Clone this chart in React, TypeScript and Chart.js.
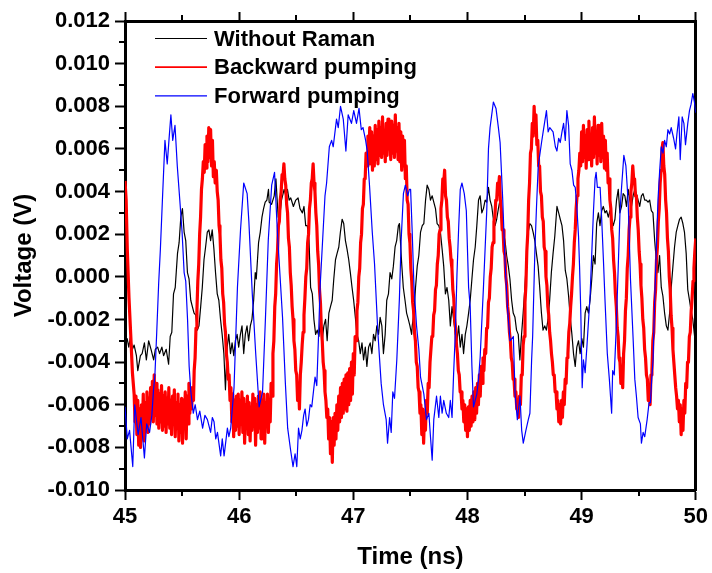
import React, { useEffect, useRef } from 'react';
import { Chart, registerables } from 'chart.js';

Chart.register(...registerables);

// ---------- data (time in ns, voltage in mV) ----------
const seriesLabels = ['Without Raman', 'Backward pumping', 'Forward pumping'];
const seriesColors = ['#000000', '#ff0000', '#0000ff'];
const seriesWidths = [1.2, 3.2, 1.2];
const xTickValues = [45, 46, 47, 48, 49, 50];
const yTickValuesMilliVolt = [-10, -8, -6, -4, -2, 0, 2, 4, 6, 8, 10, 12];
const xAxisTitle = 'Time (ns)';
const yAxisTitle = 'Voltage (V)';

const withoutRaman: [number, number][] = [
[45.000,-2.9],[45.019,-2.9],[45.033,-3.3],[45.048,-2.8],[45.065,-3.4],[45.080,-3.2],[45.100,-3.7],[45.112,-4.4],[45.135,-3.7],[45.150,-3.6],[45.170,-3.1],[45.187,-3.9],[45.207,-3.0],[45.228,-3.4],[45.251,-3.9],[45.266,-3.4],[45.286,-3.3],[45.303,-3.6],[45.323,-3.3],[45.338,-3.7],[45.361,-3.4],[45.382,-4.1],[45.396,-2.8],[45.410,-2.6],[45.425,-0.8],[45.440,-0.5],[45.460,1.1],[45.474,1.6],[45.489,2.8],[45.503,3.2],[45.518,2.1],[45.532,1.7],[45.547,0.2],[45.561,-0.1],[45.576,-1.1],[45.590,-1.4],[45.605,-1.7],[45.620,-1.8],[45.634,-2.5],[45.648,-2.3],[45.663,-1.4],[45.677,-0.5],[45.692,0.8],[45.706,1.4],[45.721,2.1],[45.735,2.2],[45.750,1.7],[45.764,2.2],[45.779,1.3],[45.793,0.2],[45.808,-0.8],[45.822,-1.1],[45.837,-2.0],[45.851,-2.7],[45.866,-3.6],[45.880,-5.3],[45.895,-3.3],[45.909,-2.7],[45.924,-3.6],[45.938,-3.1],[45.953,-3.7],[45.967,-3.0],[45.982,-2.7],[45.996,-3.3],[46.011,-2.7],[46.025,-2.3],[46.040,-3.6],[46.054,-2.7],[46.069,-2.3],[46.083,-3.0],[46.098,-2.3],[46.112,-2.0],[46.127,-1.1],[46.141,0.2],[46.150,-0.1],[46.170,1.6],[46.185,2.1],[46.200,2.8],[46.214,3.2],[46.228,3.5],[46.243,3.6],[46.257,4.1],[46.263,3.5],[46.284,3.4],[46.307,3.8],[46.322,4.6],[46.342,2.8],[46.359,3.0],[46.371,3.6],[46.394,4.1],[46.409,3.8],[46.423,4.1],[46.438,3.6],[46.452,3.7],[46.475,3.3],[46.496,3.6],[46.516,3.7],[46.533,3.2],[46.554,3.0],[46.568,3.3],[46.583,2.4],[46.597,2.4],[46.612,1.7],[46.626,-0.5],[46.641,-0.8],[46.655,-2.0],[46.670,-2.7],[46.684,-2.5],[46.699,-2.8],[46.713,-1.9],[46.728,-3.0],[46.742,-2.3],[46.757,-2.0],[46.771,-3.0],[46.786,-1.7],[46.800,-1.4],[46.815,-1.1],[46.829,-0.1],[46.844,0.8],[46.858,1.1],[46.873,1.4],[46.887,2.1],[46.902,2.7],[46.916,2.5],[46.931,1.7],[46.945,1.3],[46.960,0.8],[46.974,0.2],[46.989,-0.5],[47.003,-1.1],[47.018,-1.9],[47.032,-2.7],[47.047,-3.0],[47.061,-3.6],[47.076,-3.1],[47.090,-3.9],[47.105,-3.3],[47.119,-4.2],[47.134,-3.3],[47.148,-3.1],[47.163,-3.6],[47.177,-2.7],[47.192,-3.0],[47.206,-2.3],[47.221,-2.7],[47.235,-1.9],[47.250,-2.3],[47.264,-3.6],[47.279,-2.7],[47.293,-1.1],[47.308,-0.8],[47.322,0.2],[47.337,-0.1],[47.351,0.5],[47.366,1.4],[47.380,1.7],[47.395,2.4],[47.404,2.5],[47.424,0.6],[47.438,-0.5],[47.453,-1.1],[47.467,-1.7],[47.482,-2.0],[47.496,-2.3],[47.511,-2.7],[47.516,-2.3],[47.531,-1.7],[47.545,-0.5],[47.560,0.5],[47.574,1.0],[47.589,2.1],[47.604,2.4],[47.618,2.5],[47.633,3.6],[47.647,4.3],[47.662,4.1],[47.676,3.6],[47.691,3.8],[47.705,3.5],[47.720,3.2],[47.734,2.5],[47.749,2.4],[47.763,2.1],[47.778,1.3],[47.792,0.5],[47.807,-0.8],[47.821,-0.5],[47.836,-1.1],[47.850,-2.3],[47.865,-1.4],[47.879,-2.0],[47.894,-2.7],[47.908,-3.0],[47.923,-2.3],[47.937,-3.3],[47.952,-2.7],[47.966,-3.6],[47.981,-2.7],[47.995,-2.3],[48.010,-1.7],[48.024,-1.1],[48.039,-0.1],[48.053,0.8],[48.068,1.4],[48.082,2.4],[48.097,3.6],[48.111,3.8],[48.126,3.0],[48.140,3.2],[48.155,3.6],[48.169,3.5],[48.184,4.2],[48.198,3.6],[48.213,3.3],[48.227,2.7],[48.242,2.4],[48.256,2.7],[48.271,3.2],[48.285,3.6],[48.300,3.0],[48.314,2.1],[48.329,1.7],[48.343,1.0],[48.358,0.5],[48.372,-0.1],[48.387,-1.1],[48.401,-1.7],[48.416,-1.9],[48.430,-2.5],[48.445,-2.7],[48.459,-3.9],[48.474,-2.7],[48.488,-1.7],[48.503,-0.5],[48.517,0.8],[48.532,2.1],[48.546,2.5],[48.561,2.4],[48.575,2.1],[48.590,1.7],[48.604,1.1],[48.619,0.5],[48.633,-0.5],[48.648,-1.7],[48.662,-2.5],[48.677,-2.3],[48.691,-2.5],[48.706,-2.0],[48.720,-1.1],[48.735,0.2],[48.750,1.1],[48.765,1.9],[48.784,3.3],[48.799,3.0],[48.813,2.7],[48.828,2.4],[48.842,1.7],[48.857,0.3],[48.871,-0.1],[48.886,-0.9],[48.900,-1.9],[48.915,-2.7],[48.929,-3.6],[48.944,-4.2],[48.958,-3.3],[48.973,-3.0],[48.987,-3.6],[49.002,-2.9],[49.016,-3.3],[49.031,-1.7],[49.045,-1.4],[49.060,-1.7],[49.074,-1.1],[49.089,-0.1],[49.103,1.0],[49.118,0.6],[49.132,2.5],[49.147,3.0],[49.161,2.4],[49.176,3.1],[49.190,3.3],[49.205,3.0],[49.219,3.1],[49.234,2.8],[49.248,3.1],[49.263,2.7],[49.277,2.4],[49.292,2.7],[49.306,3.6],[49.321,4.1],[49.335,3.0],[49.350,3.3],[49.364,3.9],[49.379,3.8],[49.393,3.3],[49.408,4.1],[49.422,3.6],[49.437,3.3],[49.451,3.8],[49.466,4.1],[49.480,3.9],[49.495,3.6],[49.509,3.3],[49.524,3.8],[49.538,3.9],[49.553,3.6],[49.567,3.6],[49.582,3.5],[49.596,3.6],[49.611,3.1],[49.625,3.0],[49.640,1.7],[49.654,0.8],[49.669,0.2],[49.683,1.0],[49.698,-0.5],[49.712,-0.9],[49.727,-1.7],[49.742,-2.3],[49.756,-2.5],[49.771,-1.7],[49.785,-0.5],[49.800,0.5],[49.814,1.4],[49.829,2.1],[49.843,2.4],[49.858,2.7],[49.872,2.8],[49.887,2.5],[49.901,2.1],[49.916,1.1],[49.930,-0.6],[49.945,-1.1],[49.959,-1.6],[49.974,-2.0],[49.988,-2.7],[50.000,-3.3]
];

const backwardPumping: [number, number][] = [
[45.000,4.5],[45.010,3.6],[45.020,1.3],[45.035,-1.0],[45.050,-2.7],[45.065,-4.5],[45.080,-5.5],
[45.088,-6.8],[45.096,-5.6],[45.104,-7.4],[45.112,-5.8],[45.120,-7.9],[45.128,-6.2],[45.136,-8.0],[45.144,-6.0],[45.152,-7.2],[45.160,-5.5],[45.168,-7.7],[45.176,-5.9],[45.184,-7.0],[45.192,-5.4],[45.200,-7.3],[45.208,-5.7],[45.216,-6.9],[45.224,-5.2],[45.232,-6.6],[45.240,-4.9],[45.248,-6.8],[45.256,-4.6],[45.264,-6.5],[45.272,-5.0],[45.280,-6.9],[45.288,-5.3],[45.296,-7.1],[45.304,-5.5],[45.312,-6.8],[45.320,-5.1],[45.328,-7.2],[45.336,-5.6],[45.344,-7.0],[45.352,-5.4],[45.360,-7.3],[45.368,-5.7],[45.376,-6.9],[45.384,-5.2],[45.392,-7.1],[45.400,-5.8],[45.408,-7.4],[45.416,-5.6],[45.424,-6.8],[45.432,-5.3],[45.440,-7.5],[45.448,-5.9],[45.456,-7.1],[45.464,-5.5],[45.472,-7.7],[45.480,-6.0],[45.488,-7.3],[45.496,-5.7],[45.504,-7.8],[45.512,-5.8],[45.520,-7.0],[45.528,-5.4],[45.536,-7.6],[45.544,-5.6],[45.552,-6.9],[45.560,-5.0],[45.568,-6.4],[45.576,-5.2],[45.584,-6.2],[45.592,-5.2],[45.600,-5.8],
[45.606,-4.4],[45.614,-3.8],[45.622,-2.4],[45.630,-1.6],[45.638,-0.2],[45.646,0.6],[45.654,2.0],[45.662,2.8],[45.670,4.1],[45.678,4.6],[45.686,5.4],[45.694,4.9],[45.702,6.2],[45.710,5.1],[45.718,6.6],[45.726,5.4],[45.734,7.0],[45.742,5.6],[45.750,6.9],[45.758,5.2],[45.766,6.4],[45.774,4.7],[45.782,5.4],[45.790,4.4],[45.800,5.0],[45.808,4.0],[45.816,3.6],[45.824,2.4],[45.832,2.0],[45.840,0.8],[45.848,0.4],[45.856,-0.8],[45.864,-1.2],[45.872,-2.2],[45.880,-2.6],[45.888,-3.6],[45.896,-4.0],[45.904,-4.8],[45.912,-4.6],[45.920,-5.8],
[45.928,-5.2],[45.936,-6.8],[45.944,-5.5],[45.952,-7.5],[45.960,-5.8],[45.968,-7.2],[45.976,-5.6],[45.984,-7.0],[45.992,-5.5],[46.000,-7.4],[46.008,-5.8],[46.016,-6.9],[46.024,-5.4],[46.032,-7.3],[46.040,-5.7],[46.048,-7.8],[46.056,-6.0],[46.064,-7.1],[46.072,-5.6],[46.080,-7.4],[46.088,-5.9],[46.096,-7.7],[46.104,-6.1],[46.112,-7.2],[46.120,-5.5],[46.128,-7.0],[46.136,-5.7],[46.144,-7.9],[46.152,-6.0],[46.160,-7.3],[46.168,-5.6],[46.176,-7.1],[46.184,-5.4],[46.192,-7.6],[46.200,-5.8],[46.208,-7.2],[46.216,-5.5],[46.224,-7.8],[46.232,-5.9],[46.240,-7.0],[46.248,-5.5],[46.256,-7.3],[46.264,-5.8],[46.272,-6.8],[46.280,-5.0],[46.288,-5.6],
[46.296,-3.6],[46.304,-3.0],[46.312,-1.4],[46.320,-0.8],[46.328,0.6],[46.336,1.2],[46.344,2.4],[46.352,2.6],[46.360,3.6],[46.368,4.0],[46.376,4.8],[46.384,4.7],[46.392,5.3],[46.400,4.6],[46.408,4.3],[46.416,3.4],[46.424,3.0],[46.432,1.8],[46.440,1.4],[46.448,0.2],[46.456,-0.4],[46.464,-1.4],[46.472,-2.0],[46.480,-3.0],[46.488,-3.4],[46.496,-4.4],[46.504,-4.6],[46.512,-5.8],[46.520,-5.0],[46.528,-6.2],[46.536,-4.6],[46.544,-4.0],[46.552,-3.2],[46.560,-2.6],[46.568,-1.8],[46.576,-1.0],[46.584,0.0],[46.592,0.4],[46.600,1.6],[46.608,2.0],[46.616,3.2],[46.624,3.6],[46.632,4.4],[46.640,4.6],[46.648,5.3],[46.656,4.4],[46.664,4.0],[46.672,3.0],[46.680,2.4],[46.688,1.2],[46.696,0.6],[46.704,-0.6],[46.712,-1.2],[46.720,-2.4],[46.728,-3.0],[46.736,-4.0],[46.744,-4.4],[46.752,-5.4],[46.760,-5.8],
[46.768,-6.6],[46.776,-6.2],[46.784,-7.6],[46.792,-6.6],[46.800,-8.3],[46.808,-6.8],[46.816,-8.7],[46.824,-6.6],[46.832,-7.9],[46.840,-6.4],[46.848,-7.6],[46.856,-6.0],[46.864,-7.2],[46.872,-5.6],[46.880,-6.8],[46.888,-5.2],[46.896,-6.6],[46.904,-5.0],[46.912,-6.4],[46.920,-4.8],[46.928,-6.2],[46.936,-4.6],[46.944,-6.3],[46.952,-4.5],[46.960,-6.0],[46.968,-4.3],[46.976,-5.8],[46.984,-4.0],[46.992,-5.5],[47.000,-3.6],[47.008,-4.6],[47.016,-2.8],[47.024,-3.0],[47.032,-1.6],[47.040,-1.2],[47.048,0.0],[47.056,0.4],[47.064,1.6],[47.072,2.0],[47.080,3.2],[47.088,3.4],[47.096,4.6],[47.104,4.6],[47.112,5.8],[47.120,5.2],[47.128,6.6],
[47.136,5.4],[47.144,7.0],[47.152,5.3],[47.160,6.8],[47.168,5.0],[47.176,6.6],[47.184,5.2],[47.192,7.1],[47.200,5.5],[47.208,6.9],[47.216,5.3],[47.224,7.3],[47.232,5.7],[47.240,7.0],[47.248,5.6],[47.256,7.5],[47.264,5.8],[47.272,6.8],[47.280,5.4],[47.288,7.2],[47.296,5.7],[47.304,7.4],[47.312,6.0],[47.320,6.9],[47.328,5.5],[47.336,7.3],[47.344,5.8],[47.352,7.1],[47.360,5.6],[47.368,7.6],[47.376,5.9],[47.384,7.0],[47.392,5.5],[47.400,7.2],[47.408,5.4],[47.416,6.8],[47.424,5.0],[47.432,6.6],[47.440,5.2],[47.448,6.4],[47.456,4.6],[47.464,5.2],
[47.472,3.6],[47.480,3.4],[47.488,2.0],[47.496,1.6],[47.504,0.4],[47.512,-0.2],[47.520,-1.2],[47.528,-1.6],[47.536,-2.6],[47.544,-3.0],[47.552,-4.0],[47.560,-4.2],[47.568,-5.2],[47.576,-5.4],[47.584,-6.4],[47.592,-6.0],[47.600,-7.4],[47.608,-6.2],[47.616,-7.8],[47.624,-6.4],[47.632,-7.2],[47.640,-5.8],[47.648,-6.4],[47.656,-5.0],[47.664,-5.2],[47.672,-4.0],[47.680,-4.0],[47.688,-2.8],[47.696,-2.8],[47.704,-1.8],[47.712,-1.6],[47.720,-0.6],[47.728,-0.4],[47.736,0.6],[47.744,1.0],[47.752,2.0],[47.760,2.2],[47.768,3.2],[47.776,3.6],[47.784,4.6],[47.792,4.4],[47.800,5.0],[47.808,3.8],[47.816,3.6],[47.824,2.8],[47.832,2.6],[47.840,1.8],[47.848,1.4],[47.856,0.8],[47.864,0.4],[47.872,-0.6],[47.880,-1.0],[47.888,-2.0],[47.896,-2.4],[47.904,-3.2],[47.912,-3.6],[47.920,-4.4],[47.928,-4.6],[47.936,-5.4],[47.944,-5.4],[47.952,-6.2],[47.960,-5.8],[47.968,-6.8],[47.976,-6.0],[47.984,-7.2],[47.992,-6.2],[48.000,-7.5],[48.008,-6.1],[48.016,-7.2],[48.024,-5.8],[48.032,-7.0],[48.040,-5.6],[48.048,-6.8],[48.056,-5.4],[48.064,-6.7],[48.072,-5.2],[48.080,-6.4],[48.088,-5.0],[48.096,-6.0],[48.104,-4.6],[48.112,-5.6],[48.120,-4.2],[48.128,-5.0],[48.136,-3.8],[48.144,-4.4],[48.152,-3.4],[48.160,-3.6],[48.168,-2.4],[48.176,-2.4],[48.184,-1.2],[48.192,-1.0],[48.200,0.0],[48.208,0.4],[48.216,1.4],[48.224,1.6],[48.232,2.6],[48.240,2.8],[48.248,3.6],[48.256,3.6],[48.264,4.4],[48.272,4.2],[48.280,4.7],[48.288,3.6],[48.296,3.2],[48.304,2.2],[48.312,2.2],[48.320,1.2],[48.328,1.0],[48.336,0.0],[48.344,-0.4],[48.352,-1.4],[48.360,-1.8],[48.368,-2.6],[48.376,-3.0],[48.384,-3.8],[48.392,-4.0],[48.400,-4.8],[48.408,-4.8],[48.416,-5.6],[48.424,-5.4],[48.432,-6.2],[48.440,-5.8],[48.448,-6.6],[48.456,-5.6],[48.464,-6.0],[48.472,-4.6],[48.480,-4.6],[48.488,-3.2],[48.496,-2.8],[48.504,-1.2],[48.512,-0.4],[48.520,1.2],[48.528,2.0],[48.536,3.6],[48.544,4.4],[48.552,5.8],[48.560,6.0],[48.568,7.2],[48.576,6.6],[48.584,8.0],[48.592,6.8],[48.600,7.6],[48.608,6.2],[48.616,6.4],[48.624,5.2],[48.632,5.2],[48.640,4.0],[48.648,3.8],[48.656,2.8],[48.664,2.6],[48.672,1.4],[48.680,1.2],[48.688,0.0],[48.696,-0.4],[48.704,-1.4],[48.712,-1.8],[48.720,-2.6],[48.728,-3.0],[48.736,-3.6],[48.744,-4.0],[48.752,-4.6],[48.760,-4.6],[48.768,-5.4],[48.776,-5.4],[48.784,-6.2],[48.792,-5.8],[48.800,-6.8],[48.808,-6.0],[48.816,-6.9],[48.824,-5.8],[48.832,-6.6],[48.840,-5.4],[48.848,-6.0],[48.856,-4.8],[48.864,-5.0],[48.872,-3.8],[48.880,-3.6],[48.888,-2.6],[48.896,-2.2],[48.904,-1.4],[48.912,-0.8],[48.920,0.0],[48.928,0.6],[48.936,1.6],[48.944,2.2],[48.952,3.2],[48.960,3.8],[48.968,4.6],[48.976,5.0],[48.984,5.8],
[48.992,5.2],[49.000,6.8],[49.008,5.4],[49.016,7.1],[49.024,5.6],[49.032,6.6],[49.040,5.1],[49.048,6.9],[49.056,5.5],[49.064,7.3],[49.072,5.7],[49.080,6.7],[49.088,5.2],[49.096,7.0],[49.104,5.6],[49.112,7.5],[49.120,5.8],[49.128,6.8],[49.136,5.3],[49.144,7.1],[49.152,5.7],[49.160,6.9],[49.168,5.4],[49.176,7.2],[49.184,5.6],[49.192,6.6],[49.200,5.1],[49.208,6.4],[49.216,5.0],[49.224,5.8],[49.232,4.4],[49.240,4.6],[49.248,3.6],[49.256,3.2],[49.264,2.2],[49.272,1.8],[49.280,0.8],[49.288,0.2],[49.296,-0.8],[49.304,-1.4],[49.312,-2.4],[49.320,-2.8],[49.328,-3.8],[49.336,-4.0],[49.344,-5.0],[49.352,-4.4],[49.360,-5.2],[49.368,-3.6],[49.376,-3.0],[49.384,-1.6],[49.392,-1.0],[49.400,0.4],[49.408,1.0],[49.416,2.2],[49.424,2.8],[49.432,4.0],[49.440,4.4],[49.448,5.2],[49.456,4.6],[49.464,4.6],[49.472,3.8],[49.480,3.8],[49.488,2.8],[49.496,2.2],[49.504,1.2],[49.512,0.6],[49.520,-0.4],[49.528,-1.0],[49.536,-2.0],[49.544,-2.4],[49.552,-3.4],[49.560,-3.8],[49.568,-4.6],[49.576,-4.8],[49.584,-5.8],[49.592,-5.2],[49.600,-6.0],[49.608,-4.6],[49.616,-4.4],[49.624,-3.0],[49.632,-2.6],[49.640,-1.2],[49.648,-0.6],[49.656,0.8],[49.664,1.4],[49.672,2.6],[49.680,3.2],[49.688,4.4],[49.696,5.0],[49.704,6.0],[49.712,6.3],[49.720,5.2],[49.728,4.8],[49.736,3.6],[49.744,3.0],[49.752,1.8],[49.760,1.2],[49.768,0.0],[49.776,-0.6],[49.784,-1.8],[49.792,-2.4],[49.800,-3.4],[49.808,-4.0],[49.816,-4.6],[49.824,-5.2],[49.832,-5.6],[49.840,-6.2],[49.848,-5.8],[49.856,-6.8],[49.864,-6.0],[49.872,-7.4],[49.880,-6.2],[49.888,-7.2],[49.896,-5.8],[49.904,-6.4],[49.912,-5.0],[49.920,-5.2],[49.928,-4.0],[49.936,-4.0],[49.944,-2.8],[49.952,-2.6],[49.960,-1.6],[49.968,-1.0],[49.976,-0.2],[49.984,0.4],[49.992,1.2],[50.000,1.8]
];

const forwardPumping: [number, number][] = [
[45.000,-6.1],[45.020,-7.6],[45.040,-7.2],[45.068,-8.9],[45.085,-6.0],[45.115,-7.4],[45.140,-6.6],[45.170,-8.5],[45.190,-6.9],[45.215,-7.3],[45.235,-6.5],[45.250,-5.3],[45.262,-4.6],[45.278,-2.6],[45.295,-0.3],[45.310,1.3],[45.330,3.9],[45.350,6.4],[45.370,5.3],[45.385,6.4],[45.402,7.6],[45.418,6.4],[45.438,7.1],[45.458,5.2],[45.480,3.6],[45.500,2.1],[45.518,0.2],[45.532,-0.2],[45.548,-2.0],[45.562,-4.2],[45.577,-5.4],[45.598,-6.4],[45.615,-6.0],[45.635,-6.7],[45.655,-6.3],[45.680,-7.1],[45.700,-6.5],[45.722,-6.7],[45.750,-7.3],[45.765,-6.6],[45.780,-6.8],[45.795,-7.6],[45.810,-7.3],[45.838,-8.4],[45.852,-7.6],[45.868,-8.4],[45.897,-7.1],[45.910,-7.5],[45.926,-7.1],[45.955,-5.2],[45.985,-0.5],[46.012,2.2],[46.040,4.4],[46.070,3.9],[46.085,2.6],[46.115,-0.8],[46.145,-3.6],[46.175,-6.1],[46.205,-5.4],[46.230,-2.0],[46.255,1.7],[46.285,4.3],[46.310,4.9],[46.335,2.1],[46.380,-1.9],[46.405,-5.0],[46.425,-7.1],[46.450,-8.1],[46.472,-8.9],[46.490,-8.3],[46.505,-8.9],[46.520,-7.1],[46.535,-7.6],[46.550,-7.2],[46.565,-6.5],[46.578,-6.2],[46.592,-7.0],[46.607,-6.7],[46.622,-6.0],[46.636,-6.1],[46.665,-4.7],[46.680,-5.1],[46.694,-3.0],[46.710,-0.4],[46.732,1.8],[46.752,3.8],[46.766,4.4],[46.790,6.1],[46.810,6.4],[46.824,6.1],[46.853,7.4],[46.868,7.0],[46.888,8.0],[46.912,7.4],[46.935,5.9],[46.955,7.6],[46.984,7.2],[47.004,7.8],[47.028,7.2],[47.050,7.9],[47.070,6.9],[47.085,7.0],[47.108,6.4],[47.122,5.9],[47.143,4.2],[47.166,2.1],[47.186,0.6],[47.215,-2.6],[47.244,-5.0],[47.264,-6.0],[47.288,-6.7],[47.300,-7.8],[47.318,-6.6],[47.332,-7.3],[47.346,-5.4],[47.361,-5.7],[47.381,-3.9],[47.404,-1.0],[47.419,1.7],[47.439,3.9],[47.456,4.3],[47.477,3.8],[47.491,4.1],[47.502,4.1],[47.516,2.1],[47.531,-0.4],[47.554,-2.3],[47.574,-3.4],[47.589,-4.7],[47.618,-5.5],[47.641,-6.7],[47.662,-6.4],[47.676,-7.5],[47.691,-8.6],[47.705,-6.7],[47.729,-5.6],[47.749,-6.6],[47.763,-5.6],[47.778,-6.4],[47.792,-5.8],[47.815,-6.4],[47.836,-6.6],[47.850,-5.8],[47.865,-6.6],[47.879,-4.5],[47.894,-2.6],[47.908,0.1],[47.923,2.3],[47.937,4.1],[47.952,4.4],[47.972,3.9],[47.990,3.1],[48.010,-0.5],[48.024,-1.4],[48.039,-4.2],[48.053,-6.1],[48.082,-5.5],[48.097,-4.8],[48.111,-3.8],[48.140,-0.5],[48.169,3.1],[48.184,6.0],[48.198,7.0],[48.227,8.2],[48.250,7.9],[48.271,7.0],[48.286,6.3],[48.309,3.6],[48.330,0.6],[48.350,-1.4],[48.373,-3.0],[48.402,-2.8],[48.417,-5.5],[48.437,-6.7],[48.460,-5.6],[48.475,-7.2],[48.489,-7.8],[48.512,-7.2],[48.533,-6.7],[48.547,-6.4],[48.562,-3.9],[48.571,-2.8],[48.591,1.3],[48.605,3.3],[48.620,5.2],[48.649,6.3],[48.663,6.8],[48.692,7.8],[48.707,6.8],[48.721,7.0],[48.750,6.8],[48.770,6.1],[48.784,5.9],[48.799,6.5],[48.813,6.3],[48.828,6.8],[48.842,7.2],[48.857,6.4],[48.871,7.8],[48.886,7.1],[48.900,5.3],[48.915,5.0],[48.930,4.3],[48.944,4.2],[48.958,3.3],[48.973,1.9],[48.982,0.5],[48.993,-1.7],[49.005,-5.2],[49.016,-3.9],[49.031,-4.5],[49.046,-3.3],[49.075,-0.8],[49.089,1.1],[49.104,3.1],[49.118,4.6],[49.127,4.9],[49.138,4.2],[49.162,4.2],[49.176,2.7],[49.191,0.8],[49.205,-1.1],[49.225,-3.6],[49.243,-4.8],[49.263,-6.4],[49.272,-4.4],[49.286,-4.6],[49.301,-2.7],[49.321,0.5],[49.336,3.0],[49.350,4.2],[49.370,5.7],[49.388,5.2],[49.408,3.5],[49.428,-0.1],[49.452,-3.0],[49.466,-4.8],[49.480,-5.6],[49.495,-6.6],[49.515,-6.9],[49.524,-7.8],[49.539,-7.3],[49.553,-7.5],[49.574,-6.7],[49.591,-5.9],[49.603,-5.9],[49.614,-4.8],[49.626,-3.9],[49.640,-1.1],[49.655,1.4],[49.669,3.6],[49.684,5.0],[49.698,6.1],[49.713,5.8],[49.727,6.4],[49.742,6.1],[49.756,6.9],[49.771,6.7],[49.785,7.0],[49.806,6.5],[49.823,6.0],[49.835,6.7],[49.852,7.5],[49.864,5.5],[49.881,7.5],[49.896,7.2],[49.910,6.2],[49.930,7.2],[49.945,7.8],[49.959,8.1],[49.974,8.6],[49.988,8.2],[50.000,7.7]
];

const seriesData = [withoutRaman, backwardPumping, forwardPumping];

// ---------- styling ----------
const FONT = '"Liberation Sans", Arial, Helvetica, sans-serif';

const minorTicksPlugin = {
  id: 'minorTicks',
  afterDraw(chart: any) {
    const ctx = chart.ctx;
    const { left, top, bottom } = chart.chartArea;
    const mids = (scale: any) =>
      scale.ticks.slice(1).map((t: any, i: number) => (t.value + scale.ticks[i].value) / 2);
    ctx.save();
    ctx.strokeStyle = '#000';
    ctx.lineWidth = 2;
    const xs = chart.scales.x;
    mids(xs).forEach((v: number) => {
      const px = Math.round(xs.getPixelForValue(v));
      ctx.beginPath();
      ctx.moveTo(px, bottom);
      ctx.lineTo(px, bottom + 6);
      ctx.moveTo(px, top);
      ctx.lineTo(px, top - 6);
      ctx.stroke();
    });
    const ys = chart.scales.y;
    mids(ys).forEach((v: number) => {
      const py = Math.round(ys.getPixelForValue(v));
      ctx.beginPath();
      ctx.moveTo(left, py);
      ctx.lineTo(left - 6, py);
      ctx.stroke();
    });
    ctx.restore();
  },
};

const insideLegendPlugin = {
  id: 'insideLegend',
  afterDraw(chart: any) {
    const ctx = chart.ctx;
    const { left, top } = chart.chartArea;
    chart.data.datasets.forEach((ds: any, i: number) => {
      const y = top + 17.5 + i * 28.7;
      ctx.save();
      ctx.strokeStyle = ds.borderColor;
      ctx.lineWidth = i === 1 ? 1.8 : 1.2;
      ctx.beginPath();
      ctx.moveTo(left + 30, y);
      ctx.lineTo(left + 82, y);
      ctx.stroke();
      ctx.fillStyle = '#000';
      ctx.font = `bold 22px ${FONT}`;
      ctx.textAlign = 'left';
      ctx.textBaseline = 'middle';
      ctx.fillText(ds.label, left + 89, y + 1);
      ctx.restore();
    });
  },
};

export default function App() {
  const canvasRef = useRef<HTMLCanvasElement | null>(null);

  useEffect(() => {
    if (!canvasRef.current) return;
    const tickFont = { family: FONT, size: 22, weight: 'bold' as const };
    const titleFont = { family: FONT, size: 24, weight: 'bold' as const };
    const chart = new Chart(canvasRef.current, {
      type: 'line',
      data: {
        datasets: seriesData.map((arr, i) => ({
          label: seriesLabels[i],
          data: arr.map(([t, v]) => ({ x: t, y: v })),
          borderColor: seriesColors[i],
          backgroundColor: seriesColors[i],
          borderWidth: seriesWidths[i],
          pointRadius: 0,
          tension: 0,
          fill: false,
          borderJoinStyle: 'round' as const,
          order: 2 - i,
          xAxisID: 'x',
          yAxisID: 'y',
        })),
      },
      options: {
        animation: false,
        responsive: true,
        maintainAspectRatio: false,
        devicePixelRatio: 1,
        events: [],
        layout: { padding: { left: 0, right: 0, top: 0, bottom: 0 } },
        plugins: { legend: { display: false }, tooltip: { enabled: false } },
        scales: {
          x: {
            type: 'linear',
            position: 'bottom',
            min: 45,
            max: 50,
            afterBuildTicks: (s: any) => { s.ticks = xTickValues.map((value) => ({ value })); },
            ticks: { color: '#000', font: tickFont, padding: 4, maxRotation: 0, autoSkip: false, callback: (v: any) => String(v) },
            grid: { drawOnChartArea: false, drawTicks: true, tickLength: 10, tickWidth: 2, tickColor: '#000' },
            border: { display: true, color: '#000', width: 3 },
            title: { display: true, text: xAxisTitle, color: '#000', font: titleFont, padding: { top: 0, bottom: 1 } },
            afterFit: (s: any) => { s.height = 83; },
          },
          x2: {
            type: 'linear',
            position: 'top',
            min: 45,
            max: 50,
            afterBuildTicks: (s: any) => { s.ticks = xTickValues.map((value) => ({ value })); },
            ticks: { display: false },
            grid: { drawOnChartArea: false, drawTicks: true, tickLength: 9, tickWidth: 2, tickColor: '#000' },
            border: { display: true, color: '#000', width: 3 },
            afterFit: (s: any) => { s.height = 21; },
          },
          y: {
            type: 'linear',
            position: 'left',
            min: -10,
            max: 12,
            afterBuildTicks: (s: any) => { s.ticks = yTickValuesMilliVolt.map((value) => ({ value })); },
            ticks: { color: '#000', font: tickFont, padding: 5, autoSkip: false, callback: (v: any) => (Number(v) / 1000).toFixed(3) },
            grid: { drawOnChartArea: false, drawTicks: true, tickLength: 10, tickWidth: 2, tickColor: '#000' },
            border: { display: true, color: '#000', width: 3 },
            title: { display: true, text: yAxisTitle, color: '#000', font: titleFont, padding: { top: 10, bottom: 0 } },
            afterFit: (s: any) => { s.width = 125; },
          },
          y2: {
            type: 'linear',
            position: 'right',
            min: -10,
            max: 12,
            ticks: { display: false },
            grid: { drawOnChartArea: false, drawTicks: false },
            border: { display: true, color: '#000', width: 3 },
            afterFit: (s: any) => { s.width = 13; },
          },
        },
      },
      plugins: [minorTicksPlugin, insideLegendPlugin],
    } as any);
    return () => chart.destroy();
  }, []);

  return (
    <div style={{ position: 'absolute', left: 0, top: 0, width: 712, height: 573, background: '#fff' }}>
      <canvas ref={canvasRef} />
    </div>
  );
}
